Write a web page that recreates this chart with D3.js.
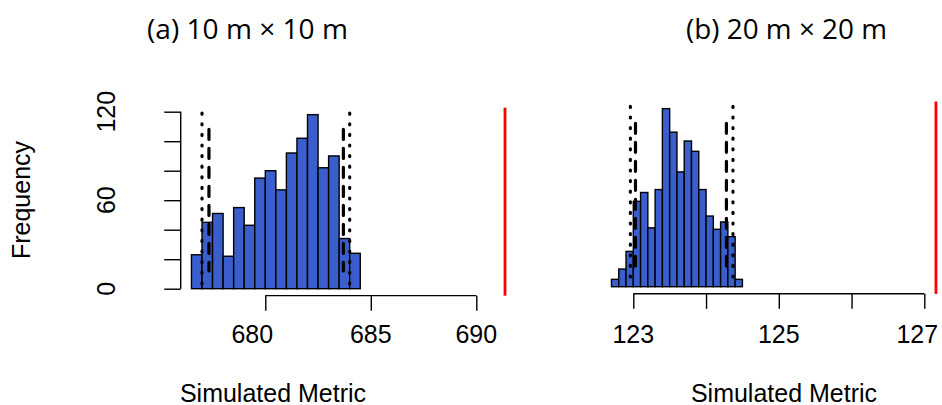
<!DOCTYPE html>
<head>
    <title>Simulated metric histograms</title>
</head>
<style>
    body { margin: 0; background: #fff; }
    svg { font-family: "Liberation Sans", Arial, sans-serif; }
    .title { font-family: "Open Sans", "Noto Sans", sans-serif; font-size: 22px; }
    .lab { font-size: 25px; }
    .axis path, .axis line { stroke: #000; stroke-width: 1.4; }
</style>
<svg width="942" height="405"></svg>
<script src="https://d3js.org/d3.v7.min.js"></script>
<script>

    // panel (a) 10 m x 10 m
    var edgesA = [676.5, 677, 677.5, 678, 678.5, 679, 679.5, 680, 680.5, 681, 681.5, 682, 682.5, 683, 683.5, 684, 684.5];
    var countsA = [23, 45, 51, 22, 55, 43, 75, 80, 67, 92, 102, 118, 82, 90, 34, 24];
    var xTicksA = [680, 685, 690];
    var xLabelsA = [680, 685, 690];
    var yTicksA = [0, 20, 40, 60, 80, 100, 120];
    var yLabelsA = [0, 60, 120];
    var dottedA = [677.0, 684.0];
    var dashedA = [677.33, 683.7];
    var observedA = 691.36;

    // panel (b) 20 m x 20 m
    var edgesB = [122.7, 122.8, 122.9, 123.0, 123.1, 123.2, 123.3, 123.4, 123.5, 123.6, 123.7, 123.8, 123.9, 124.0, 124.1, 124.2, 124.3, 124.4, 124.5];
    var countsB = [5, 12, 24, 58, 64, 40, 66, 121, 105, 78, 99, 92, 66, 48, 39, 44, 34, 5];
    var xTicksB = [123, 124, 125, 126, 127];
    var xLabelsB = [123, 125, 127];
    var dottedB = [122.96, 124.37];
    var dashedB = [123.03, 124.28];
    var observedB = 127.16;

    // vertical reach of the interval lines, in counts [bottom, top]
    var dottedSpanA = [1, 119], dashedSpanA = [12, 108];
    var dottedSpanB = [1, 122.5], dashedSpanB = [14, 111];

    var svg = d3.select("svg");

    var panels = [
        {title: "(a) 10 m \u00d7 10 m", edges: edgesA, counts: countsA, xTicks: xTicksA, xLabels: xLabelsA,
            dotted: dottedA, dashed: dashedA, observed: observedA, dottedSpan: dottedSpanA, dashedSpan: dashedSpanA,
            x: d3.scaleLinear().domain([680, 690]).range([265.3, 476.3]),
            y: d3.scaleLinear().domain([0, 120]).range([288.7, 111.7]),
            titleX: 247.5, labelX: 273, yAxis: true, nudge: {680: -13}},
        {title: "(b) 20 m \u00d7 20 m", edges: edgesB, counts: countsB, xTicks: xTicksB, xLabels: xLabelsB,
            dotted: dottedB, dashed: dashedB, observed: observedB, dottedSpan: dottedSpanB, dashedSpan: dashedSpanB,
            x: d3.scaleLinear().domain([123, 127]).range([633.3, 924.3]),
            y: d3.scaleLinear().domain([0, 120]).range([286.7, 110.1]),
            titleX: 786.5, labelX: 784, yAxis: false, nudge: {127: -7}}
    ];

    panels.forEach(function(p) {
        var g = svg.append("g");
        var x = p.x, y = p.y;
        var ymax = d3.max(p.counts);
        // R style 4% padding of the plot region
        var usr = [-0.04 * ymax, ymax * 1.04];

        g.selectAll("rect.bar")
            .data(p.counts)
            .enter().append("rect")
            .attr("class", "bar")
            .attr("x", function(d, i) { return x(p.edges[i]); })
            .attr("width", function(d, i) { return x(p.edges[i + 1]) - x(p.edges[i]); })
            .attr("y", function(d) { return y(d); })
            .attr("height", function(d) { return y(0) - y(d); })
            .attr("fill", "#3a5fcd")
            .attr("stroke", "#000")
            .attr("stroke-width", 1.4);

        g.selectAll("line.dotted")
            .data(p.dotted)
            .enter().append("line")
            .attr("x1", function(d) { return x(d); })
            .attr("x2", function(d) { return x(d); })
            .attr("y1", y(p.dottedSpan[1]))
            .attr("y2", y(p.dottedSpan[0]))
            .attr("stroke", "#000")
            .attr("stroke-width", 3.2)
            .attr("stroke-linecap", "round")
            .attr("stroke-dasharray", "1,9.6");

        g.selectAll("line.dashed")
            .data(p.dashed)
            .enter().append("line")
            .attr("x1", function(d) { return x(d); })
            .attr("x2", function(d) { return x(d); })
            .attr("y1", y(p.dashedSpan[1]))
            .attr("y2", y(p.dashedSpan[0]))
            .attr("stroke", "#000")
            .attr("stroke-width", 3.2)
            .attr("stroke-linecap", "round")
            .attr("stroke-dasharray", "10,9");

        g.append("line")
            .attr("x1", x(p.observed))
            .attr("x2", x(p.observed))
            .attr("y1", y(usr[1]))
            .attr("y2", y(usr[0]))
            .attr("stroke", "#ff0000")
            .attr("stroke-width", 2.8);

        var axisY = y(usr[0]);
        var xa = g.append("g")
            .attr("class", "axis")
            .attr("transform", "translate(0," + axisY + ")")
            .call(d3.axisBottom(x).tickValues(p.xTicks).tickSize(15).tickSizeOuter(0).tickFormat(""));
        xa.selectAll(".domain").attr("d", "M" + x(p.xTicks[0]) + ",0H" + x(p.xTicks[p.xTicks.length - 1]));

        g.selectAll("text.xl")
            .data(p.xLabels)
            .enter().append("text")
            .attr("class", "lab")
            .attr("x", function(d) { return x(d) + (p.nudge[d] || 0); })
            .attr("y", 342.5)
            .attr("text-anchor", "middle")
            .text(function(d) { return d; });

        if (p.yAxis) {
            var ya = g.append("g")
                .attr("class", "axis")
                .attr("transform", "translate(" + 180.7 + ",0)")
                .call(d3.axisLeft(y).tickValues(yTicksA).tickSize(16.5).tickSizeOuter(0).tickFormat(""));
            ya.selectAll(".domain").attr("d", "M0," + y(0) + "V" + y(120));

            g.selectAll("text.yl")
                .data(yLabelsA)
                .enter().append("text")
                .attr("class", "lab")
                .attr("transform", function(d) { return "translate(115," + y(d) + ") rotate(-90)"; })
                .attr("text-anchor", "middle")
                .text(function(d) { return d; });
        }

        var t = g.append("text")
            .attr("class", "title")
            .attr("x", p.titleX)
            .attr("y", 38.5)
            .attr("text-anchor", "middle")
            .text(p.title);
        // fit the title to the width it takes in the original figure
        var w = t.node().getComputedTextLength();
        t.style("font-size", (22 * 201 / w) + "px");

        g.append("text")
            .attr("class", "lab")
            .attr("x", p.labelX)
            .attr("y", 401.5)
            .attr("text-anchor", "middle")
            .text("Simulated Metric");
    });

    svg.append("text")
        .attr("class", "lab")
        .attr("transform", "translate(29.5,200) rotate(-90)")
        .attr("text-anchor", "middle")
        .text("Frequency");

</script>
